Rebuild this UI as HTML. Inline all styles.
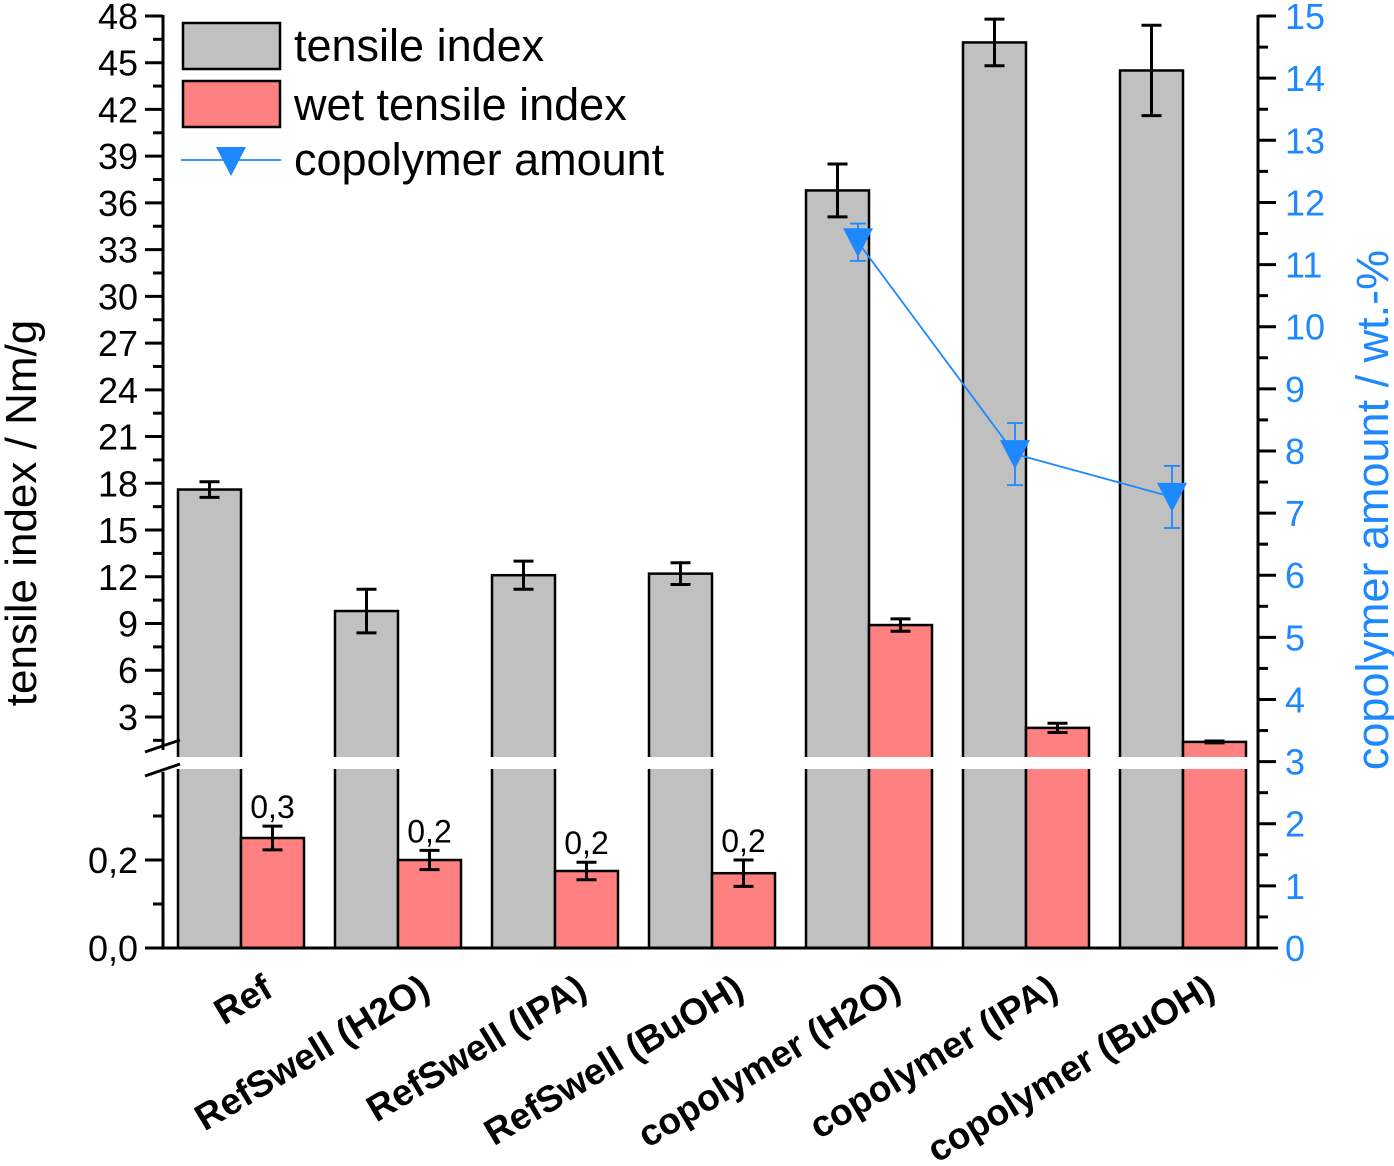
<!DOCTYPE html>
<html><head><meta charset="utf-8"><style>
body{margin:0;background:#fff}
svg{display:block;font-family:"Liberation Sans",Arial,sans-serif}
</style></head><body>
<svg id="c" width="1394" height="1166" viewBox="0 0 1394 1166"></svg>
<script>
const categories=["Ref","RefSwell (H2O)","RefSwell (IPA)","RefSwell (BuOH)","copolymer (H2O)","copolymer (IPA)","copolymer (BuOH)"];
const tensile=[17.6,9.8,12.1,12.2,36.8,46.3,44.5];
const tensileErr=[0.5,1.4,0.9,0.7,1.7,1.5,2.9];
const wet=[0.25,0.2,0.175,0.17,8.9,2.3,1.4];
const wetErr=[0.027,0.022,0.02,0.03,0.4,0.3,0.06];
const wetLabels=["0,3","0,2","0,2","0,2","","",""];
const copoly=[null,null,null,null,11.36,7.95,7.26];
const copolyErr=[0,0,0,0,0.3,0.5,0.5];
const upperTicks=[3,6,9,12,15,18,21,24,27,30,33,36,39,42,45,48];
const lowerTicks=["0,0","0,2"];
const rightTicks=[0,1,2,3,4,5,6,7,8,9,10,11,12,13,14,15];

const S=document.getElementById('c'),NS="http://www.w3.org/2000/svg";
function el(t,a,p){const e=document.createElementNS(NS,t);for(const k in a)e.setAttribute(k,a[k]);(p||S).appendChild(e);return e;}
const L=163,R=1258,B=948,gap0=757,gap1=769;
function yU(v){return 763.7-v*15.578;}
function yL(v){return B-v*440;}
function yV(v){return v>=0.5?Math.min(yU(v),gap0):Math.max(yL(v),gap1);}
function yR(v){return B-v*62.13;}
function xG(i){return 241+157*i;}
const bw=63;
categories.forEach((c,i)=>{
  const xc=xG(i);
  let g=el('rect',{x:xc-bw,y:yV(tensile[i]),width:bw,height:B-yV(tensile[i]),fill:'#c0c0c0',stroke:'#000','stroke-width':2.5});
  
  let r=el('rect',{x:xc,y:yV(wet[i]),width:bw,height:B-yV(wet[i]),fill:'#ff8080',stroke:'#000','stroke-width':2.5});
  
});
el('rect',{x:150,y:gap0,width:1100,height:gap1-gap0,fill:'#fff'});
function err(x,v,e,yf,col,w,cap){
  const a=yf(v+e),b=yf(v-e);
  const g=el('g',{stroke:col,'stroke-width':w});
  
  el('line',{x1:x,x2:x,y1:a,y2:b},g);
  el('line',{x1:x-cap,x2:x+cap,y1:a,y2:a},g);
  el('line',{x1:x-cap,x2:x+cap,y1:b,y2:b},g);
}
categories.forEach((c,i)=>{
  const xc=xG(i);
  err(xc-bw/2,tensile[i],tensileErr[i],yU,'#000',3,10);
  const yf=wet[i]>=0.5?yU:yL;
  err(xc+bw/2,wet[i],wetErr[i],yf,'#000',3,10);
  if(wetLabels[i]){const t=el('text',{x:xc+bw/2,y:yL(wet[i]+wetErr[i])-8,'font-size':32,'text-anchor':'middle'});t.textContent=wetLabels[i];}
});
const pts=[];copoly.forEach((v,i)=>{if(v!=null)pts.push([xG(i)-11,yR(v),i]);});
const pl=el('polyline',{points:pts.map(p=>p[0]+','+p[1]).join(' '),fill:'none',stroke:'#1e88ff','stroke-width':1.8});

pts.forEach(p=>{
  err(p[0],copoly[p[2]],copolyErr[p[2]],yR,'#1e88ff',1.8,8);
  const m=el('path',{d:`M${p[0]-15},${p[1]-14}L${p[0]+15},${p[1]-14}L${p[0]},${p[1]+15}Z`,fill:'#1e88ff'});
  
});
const ax=el('g',{stroke:'#000','stroke-width':3});

el('line',{x1:L,x2:L,y1:15,y2:750},ax);
el('line',{x1:L,x2:L,y1:772,y2:949},ax);
el('line',{x1:147,x2:R+20,y1:B,y2:B},ax);
el('line',{x1:145,x2:180,y1:752,y2:740},ax);
el('line',{x1:145,x2:180,y1:776,y2:764},ax);
const rax=el('line',{x1:R,x2:R,y1:15,y2:B,stroke:'#000','stroke-width':3});

upperTicks.forEach(v=>{
  el('line',{x1:L-18,x2:L,y1:yU(v),y2:yU(v)},ax);
  el('line',{x1:L-10,x2:L,y1:yU(v-1.5),y2:yU(v-1.5)},ax);
  const t=el('text',{x:L-25,y:yU(v)+13,'font-size':36,'text-anchor':'end',stroke:'none'});t.textContent=v;
});
lowerTicks.forEach((s,i)=>{
  const v=i*0.2;
  el('line',{x1:L-18,x2:L,y1:yL(v),y2:yL(v)},ax);
  el('line',{x1:L-10,x2:L,y1:yL(v+0.1),y2:yL(v+0.1)},ax);
  const t=el('text',{x:L-25,y:yL(v)+13,'font-size':36,'text-anchor':'end',stroke:'none'});t.textContent=s;
});
rightTicks.forEach(v=>{
  el('line',{x1:R,x2:R+18,y1:yR(v),y2:yR(v),stroke:'#000','stroke-width':3});
  if(v<15)el('line',{x1:R,x2:R+10,y1:yR(v+0.5),y2:yR(v+0.5),stroke:'#000','stroke-width':3});
  const t=el('text',{x:R+27,y:yR(v)+13,'font-size':36,fill:'#1e88ff'});t.textContent=v;
});
categories.forEach((c,i)=>{
  const x=xG(i)+34,y=995;
  const t=el('text',{x:x,y:y,'font-size':37,'font-weight':'bold','text-anchor':'end',transform:`rotate(-31 ${x} ${y})`});
  t.textContent=c;
});
let t=el('text',{x:0,y:0,'font-size':44,'text-anchor':'middle',transform:'translate(36 513) rotate(-90)'});t.textContent='tensile index / Nm/g';

t=el('text',{x:0,y:0,'font-size':45,'text-anchor':'middle',fill:'#1e88ff',transform:'translate(1388 510) rotate(-90)'});t.textContent='copolymer amount / wt.-%';

const lg=el('g',{});
el('rect',{x:183,y:23,width:97,height:46,fill:'#c0c0c0',stroke:'#000','stroke-width':2.5},lg);
el('rect',{x:183,y:81,width:97,height:46,fill:'#ff8080',stroke:'#000','stroke-width':2.5},lg);
el('line',{x1:181,x2:281,y1:160,y2:160,stroke:'#1e88ff','stroke-width':1.8},lg);
el('path',{d:'M216,147L246,147L231,176Z',fill:'#1e88ff'},lg);
[['tensile index',61],['wet tensile index',120],['copolymer amount',175]].forEach(a=>{
  const tt=el('text',{x:294,y:a[1],'font-size':45},lg);tt.textContent=a[0];
  
});
</script>
</body></html>
